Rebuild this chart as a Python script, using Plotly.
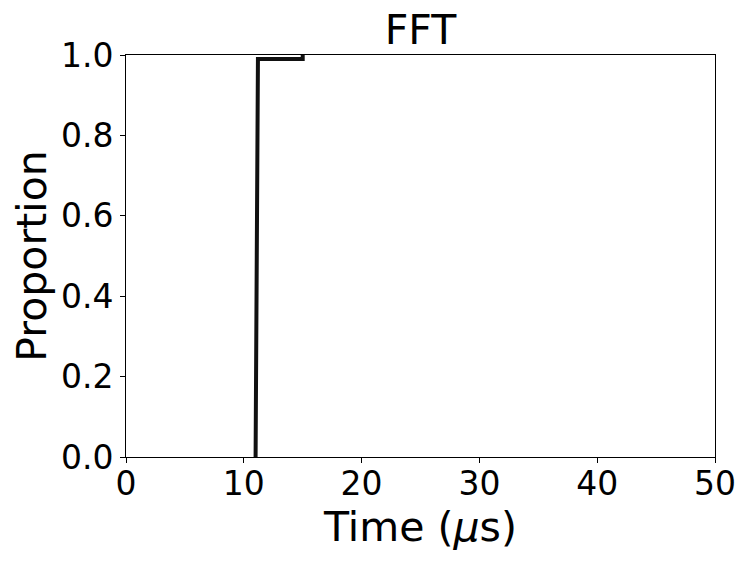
import plotly.graph_objects as go

time_us = [11.0, 11.1, 11.2, 12.0, 13.0, 14.0, 14.9, 15.0, 15.0]
proportion = [0.0, 0.5, 0.99, 0.99, 0.99, 0.99, 0.99, 0.99, 1.0]
x_ticks = [0, 10, 20, 30, 40, 50]
y_ticks = [0.0, 0.2, 0.4, 0.6, 0.8, 1.0]
y_tick_labels = ["0.0", "0.2", "0.4", "0.6", "0.8", "1.0"]

fig = go.Figure()
fig.add_trace(go.Scatter(x=time_us, y=proportion, mode="lines",
                         line=dict(color="#111111", width=4), showlegend=False))

font = "DejaVu Sans, sans-serif"
axis_common = dict(showgrid=False, zeroline=False, showline=True, linecolor="black",
                   linewidth=1, mirror=True, ticks="outside", ticklen=5, tickwidth=1,
                   tickcolor="black", tickfont=dict(family=font, size=33, color="black"))
fig.update_layout(
    width=753, height=565,
    margin=dict(l=118, r=46, t=47, b=116),
    paper_bgcolor="white", plot_bgcolor="white",
    title=dict(text="FFT", x=0.5, xref="paper", y=1, yref="container", yanchor="top",
               pad=dict(t=7),
               font=dict(family=font, size=41, color="black")),
    xaxis=dict(range=[0, 50], tickvals=x_ticks, ticklabelstandoff=-8,
               title=dict(text="Time (<i>μ</i>s)", standoff=2,
               font=dict(family=font, size=41, color="black")), **axis_common),
    yaxis=dict(range=[0, 1], tickvals=y_ticks, ticktext=y_tick_labels,
               title=dict(text="Proportion", standoff=8,
               font=dict(family=font, size=41, color="black")), **axis_common),
)
fig.write_html("out.html")
